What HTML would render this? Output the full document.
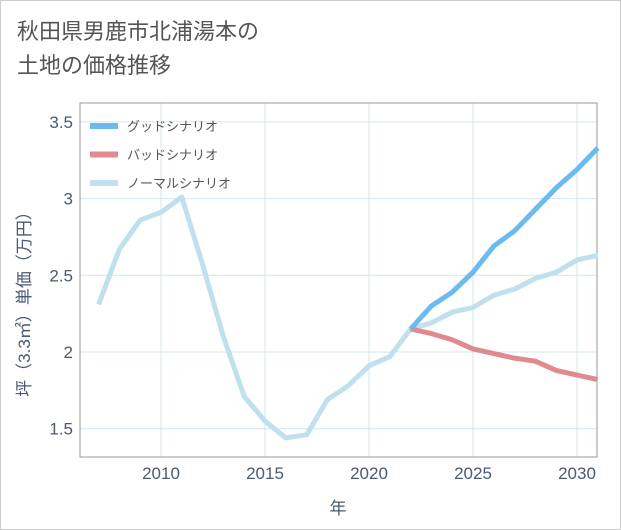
<!DOCTYPE html>
<html><head><meta charset="utf-8">
<style>
body{margin:0;background:#fff;}
#wrap{position:relative;width:619px;height:528px;border:1px solid #ccc;background:#fff;overflow:hidden;font-family:"Liberation Sans","Noto Sans CJK JP",sans-serif;}
#title{position:absolute;left:16px;top:14px;font-size:22px;line-height:34px;color:#555;}
</style></head><body>
<div id="wrap">
<div id="title">秋田県男鹿市北浦湯本の<br>土地の価格推移</div>
<svg id="chart" width="621" height="530" style="position:absolute;left:-1px;top:-1px"></svg>
</div>
<script>
const years=[2007,2008,2009,2010,2011,2012,2013,2014,2015,2016,2017,2018,2019,2020,2021,2022,2023,2024,2025,2026,2027,2028,2029,2030,2031];
const normal=[2.31,2.67,2.86,2.91,3.01,2.57,2.1,1.71,1.55,1.44,1.46,1.69,1.78,1.91,1.97,2.15,2.19,2.26,2.29,2.37,2.41,2.48,2.52,2.6,2.63];
const goodYears=[2022,2023,2024,2025,2026,2027,2028,2029,2030,2031];
const good=[2.15,2.3,2.39,2.52,2.69,2.79,2.93,3.07,3.19,3.33];
const bad=[2.15,2.12,2.08,2.02,1.99,1.96,1.94,1.88,1.85,1.82];
const xTicks=[2010,2015,2020,2025,2030];
const yTicks=[1.5,2,2.5,3,3.5];
const yTickLabels=["1.5","2","2.5","3","3.5"];
const legendLabels=["グッドシナリオ","バッドシナリオ","ノーマルシナリオ"];
const colors=["#6bbaf0","#e08a8f","#bfe0ec"];
const L=80,R=597,T=103,B=457;
const x=v=>161+(v-2010)*20.8;
const y=v=>352-(v-2)*153.4;
const svg=document.getElementById('chart');
const NS='http://www.w3.org/2000/svg';
function mk(t,a,p){const e=document.createElementNS(NS,t);for(const k in a)e.setAttribute(k,a[k]);(p||svg).appendChild(e);return e;}
xTicks.forEach(v=>{const l=mk('line',{x1:x(v),x2:x(v),y1:T,y2:B,stroke:'#d6e4ee','stroke-width':1});


const t=mk('text',{x:x(v),y:479,'text-anchor':'middle','font-size':17,fill:'#4a5a70'});t.textContent=v;

});
yTicks.forEach((v,i)=>{const l=mk('line',{x1:L,x2:R,y1:y(v),y2:y(v),stroke:'#d6e4ee','stroke-width':1});


const t=mk('text',{x:73,y:y(v)+6,'text-anchor':'end','font-size':17,fill:'#4a5a70'});t.textContent=yTickLabels[i];

});
const fr=mk('rect',{x:L,y:T,width:R-L,height:B-T,fill:'none',stroke:'#999','stroke-width':1});


function line(xs,vs,c,name){const p=mk('polyline',{points:xs.map((v,i)=>x(v)+','+y(vs[i])).join(' '),fill:'none',stroke:c,'stroke-width':5,'stroke-linejoin':'round'});

}
line(years,normal,colors[2],'normal-scenario-line');
line(goodYears,bad,colors[1],'bad-scenario-line');
line(goodYears,good,colors[0],'good-scenario-line');
legendLabels.forEach((s,i)=>{const yy=126+i*28.5;
const l=mk('line',{x1:90,x2:118,y1:yy,y2:yy,stroke:colors[i],'stroke-width':6});


const t=mk('text',{x:127,y:yy+5,'font-size':13,fill:'#555'});t.textContent=s;

});
const xt=mk('text',{x:338,y:514,'text-anchor':'middle','font-size':17,fill:'#4a5a70'});xt.textContent='年';


const yt=mk('text',{x:0,y:0,'text-anchor':'middle','font-size':17,fill:'#4a5a70',transform:'translate(30,300) rotate(-90)'});yt.textContent='坪（3.3㎡）単価（万円）';


</script>
</body></html>
